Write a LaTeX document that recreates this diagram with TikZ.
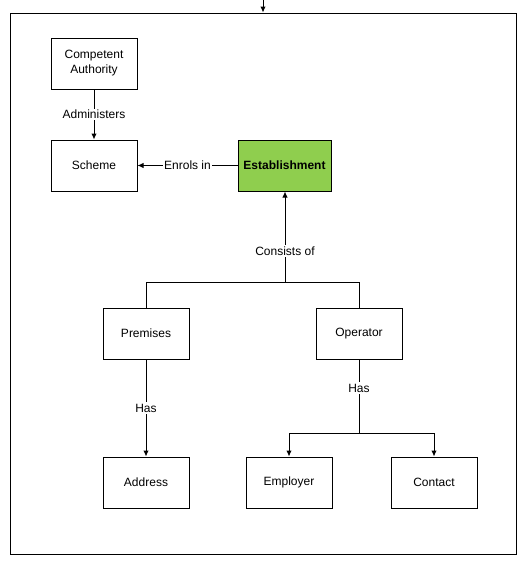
\documentclass[tikz,border=0pt]{standalone}
\usepackage{fontspec}
\setmainfont{Liberation Sans}
\usetikzlibrary{positioning,arrows.meta}

\tikzset{
  entity/.style={draw, line width=1pt, minimum width=86pt, minimum height=51pt,
    align=center, font=\fontsize{12}{15}\selectfont},
  rel/.style={fill=white, inner sep=1.5pt, font=\fontsize{12}{15}\selectfont},
}

\begin{document}
\begin{tikzpicture}[x=1pt,y=-1pt,line width=1pt,>={Latex[length=6pt,width=5.5pt]}]
  \useasboundingbox (0,0) rectangle (529,565);
  \node[draw, line width=1pt, minimum width=506pt, minimum height=541pt] (frame) at (263,283.5) {};
  \coordinate (topIn) at (263,0);

  \node[entity] (ca) at (94,63.5) {Competent\\Authority};
  \node[entity] (scheme) at (94,165.5) {Scheme};
  \node[entity, fill={rgb,255:red,143;green,206;blue,78}, minimum width=93pt, font=\fontsize{12}{15}\selectfont\bfseries] (est) at (284.5,165.5) {Establishment};
  \node[entity] (prem) at (146,333.5) {Premises};
  \node[entity] (oper) at (359,333.5) {Operator};
  \node[entity] (addr) at (146,482.5) {Address};
  \node[entity] (empl) at (289,482.5) {Employer};
  \node[entity] (cont) at (434,482.5) {Contact};

  \coordinate (join) at (285,282);
  \coordinate (split) at (359,433);

  \draw[->] (topIn) -- (frame.north);

  \draw[->] (ca) -- (scheme) node[midway,rel] {Administers};
  \draw[->] (est) -- (scheme) node[midway,rel] {Enrols in};

  \draw (prem.north) |- (join);
  \draw (oper.north) |- (join);
  \draw[->] (join) -- (join |- est.south) node[pos=0.34,rel] {Consists of};

  \draw[->] (prem) -- (addr) node[midway,rel] {Has};

  \draw (oper.south) -- (split) node[pos=0.39,rel] {Has};
  \draw[->] (split) -| (empl.north);
  \draw[->] (split) -| (cont.north);
\end{tikzpicture}
\end{document}
